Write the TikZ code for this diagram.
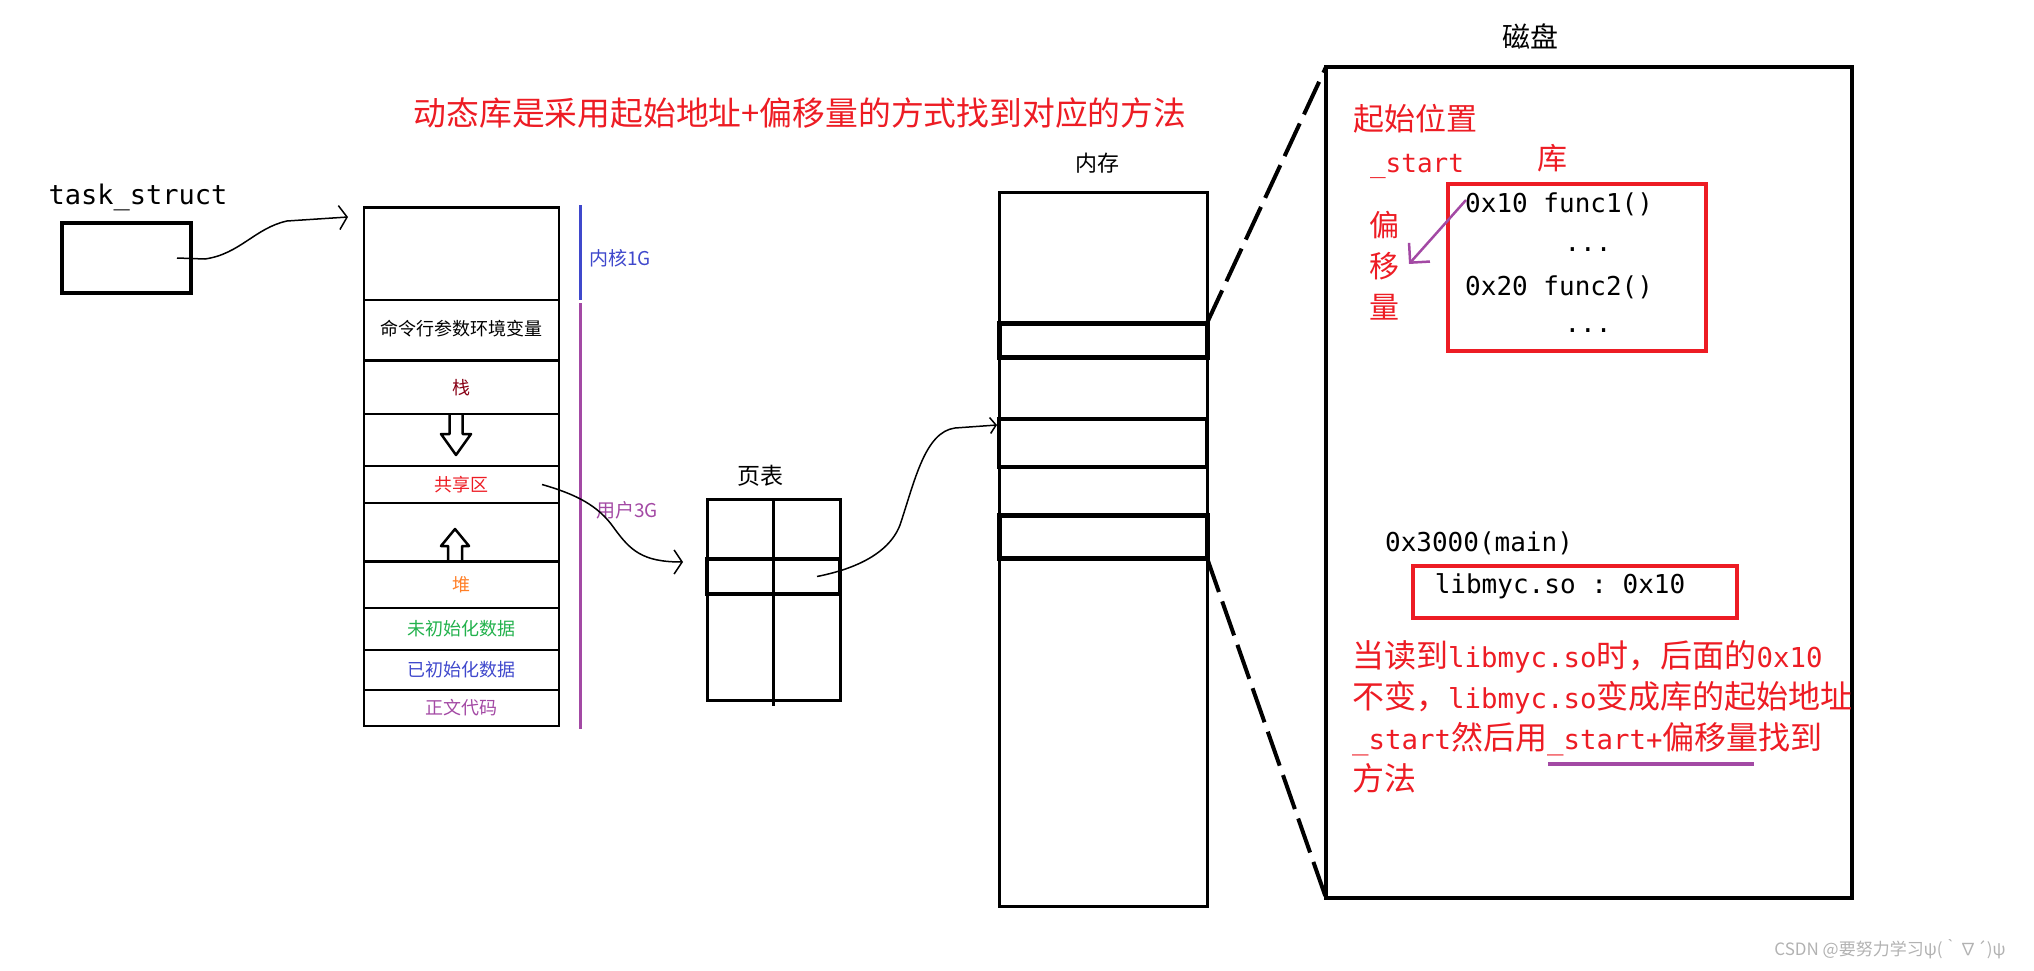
\documentclass[tikz,border=0pt]{standalone}
\usepackage{fontspec}
\setmainfont{Noto Sans CJK SC}
\setmonofont{DejaVu Sans Mono}
\usetikzlibrary{arrows.meta,positioning}
\definecolor{pred}{HTML}{ED1C24}
\definecolor{ppurple}{HTML}{A349A4}
\definecolor{pblue}{HTML}{3F48CC}
\definecolor{pbrown}{HTML}{880015}
\definecolor{porange}{HTML}{FF7F27}
\definecolor{pgreen}{HTML}{22B14C}
\newcommand{\fsz}[1]{\fontsize{#1}{#1}\selectfont}
\newcommand{\asc}[1]{{\ttfamily\fontsize{27.4}{41}\selectfont #1}}

\begin{document}
\begin{tikzpicture}[x=1pt, y=-1pt,
  seg/.style={draw, line width=2.5pt, minimum width=195pt, inner sep=0pt, outer sep=0pt, font=\fsz{18}},
  band/.style={draw, line width=5pt, minimum width=208pt, inner sep=0pt, outer sep=0pt},
  scrawl/.style={line width=1.5pt, -{Straight Barb[length=8pt,width=24pt]}},
  zoomln/.style={line width=4pt, dash pattern=on 36pt off 10pt},
  redbox/.style={draw=pred, line width=4pt, inner sep=0pt, outer sep=0pt},
  code/.style={font=\ttfamily\fsz{26}, inner sep=0pt},
  rtxt/.style={text=pred, inner sep=0pt, font=\fontsize{32}{41}\selectfont}]
 \useasboundingbox (0,0) rectangle (2034,971);
 \node[text=pred, font=\fsz{32.8}] (ttl) at (800,113) {动态库是采用起始地址+偏移量的方式找到对应的方法};
 % task_struct
 \node[font=\ttfamily\fsz{27}] (tsname) at (138,197) {task\_struct};
 \node[draw, line width=4pt, minimum width=129pt, minimum height=70pt] (tsk) at (126.5,258) {};
 % address space
 \node[seg, minimum height=92.5pt] (kern) at (461.5,253.75) {};
 \node[seg, minimum height=60.5pt, below=0pt of kern] (args) {\raisebox{5pt}{命令行参数环境变量}};
 \node[seg, minimum height=53.5pt, below=0pt of args, text=pbrown] (stk) {栈};
 \node[seg, minimum height=52pt, below=0pt of stk] (gapd) {};
 \node[seg, minimum height=37pt, below=0pt of gapd, text=pred] (shm) {共享区};
 \node[seg, minimum height=58.6pt, below=0pt of shm] (gapu) {};
 \node[seg, minimum height=46.4pt, below=0pt of gapu, text=porange] (heap) {堆};
 \node[seg, minimum height=42pt, below=0pt of heap, text=pgreen] (bss) {未初始化数据};
 \node[seg, minimum height=40pt, below=0pt of bss, text=pblue] (data) {已初始化数据};
 \node[seg, minimum height=36pt, below=0pt of data, text=ppurple] (txt) {正文代码};
 \draw[line width=2.5pt, line join=round] (449.5,414) -- (449.5,434) -- (441,434) -- (456,455) -- (471,434) -- (462.5,434) -- (462.5,414);
 \draw[line width=2.5pt, line join=round] (448,561.6) -- (448,546) -- (441,546) -- (455,529) -- (469,546) -- (462,546) -- (462,561.6);
 \draw[pblue, line width=3pt] (580,205) -- (580,300);
 \draw[ppurple, line width=3pt] (580,303) -- (580,729);
 \node[text=pblue, font=\fsz{19}] (kl) at (620,258) {内核1G};
 \node[text=ppurple, font=\fsz{19}] (ul) at (627,510) {用户3G};
 % page table
 \node[font=\fsz{23}] (pgtl) at (760,476) {页表};
 \node[draw, line width=3pt, minimum width=133pt, minimum height=201pt, outer sep=0pt] (pgt) at (773.5,599.5) {};
 \draw[line width=3pt] (773,499) -- (773,706);
 \node[draw, line width=4pt, minimum width=133pt, minimum height=35pt, outer sep=0pt] (pgrow) at (773.5,576.5) {};
 % memory
 \node[font=\fsz{22}] (meml) at (1097,163) {内存};
 \node[draw, line width=3pt, minimum width=208pt, minimum height=714pt, outer sep=0pt] (mem) at (1103,549) {};
 \node[band, minimum height=34pt] (band1) at (1103,340) {};
 \node[band, line width=3.5pt, minimum height=48pt] (band2) at (1103,443) {};
 \node[band, minimum height=43pt] (band3) at (1103,536.5) {};
 % disk
 \node[font=\fsz{28}] (diskl) at (1530,36) {磁盘};
 \node[draw, line width=4.5pt, minimum width=526pt, minimum height=831pt, outer sep=0pt] (disk) at (1589,482.5) {};
 \draw[zoomln] (band1.north east) -- (disk.north west);
 \draw[zoomln] (band3.south east) -- (disk.south west);
 \node[text=pred, font=\fsz{31}] (startl) at (1415,119) {起始位置};
 \node[text=pred, code] (start) at (1417,166) {\_start};
 \node[text=pred, font=\fsz{30}] (libl) at (1552,158) {库};
 \node[redbox, minimum width=258pt, minimum height=167pt] (lib) at (1577,267.5) {};
 \node[code, anchor=west] (f1) at (1465,204) {0x10 func1()};
 \node[code] (dots1) at (1588,250) {...};
 \node[code, anchor=west] (f2) at (1465,287) {0x20 func2()};
 \node[code] (dots2) at (1588,331) {...};
 \node[text=pred, align=center, font=\fontsize{30}{41}\selectfont] (offl) at (1384,266) {偏\\移\\量};
 \coordinate (offtip) at (1409,264);
 \draw[ppurple, line width=2.5pt, -{Straight Barb[length=14pt,width=28pt]}] ([xshift=1pt,yshift=4pt]f1.west) -- (offtip);
 \node[code] (mainl) at (1479,543) {0x3000(main)};
 \node[redbox, minimum width=324pt, minimum height=52pt] (sobox) at (1575,592) {};
 \node[code] (so) at (1560,586) {libmyc.so : 0x10};
 \foreach \ln [count=\k] in {{当读到\asc{libmyc.so}时，后面的\asc{0x10}}, {不变，\asc{libmyc.so}变成库的起始地址}, {\asc{\_start}然后用\asc{\_start+}偏移量找到}, {方法}}
   \node[rtxt, anchor=base west] (expl\k) at (1352,626+41*\k) {\ln};
 \draw[ppurple, line width=4pt] (1548,764) -- (1754,764);
 % scribbled pointers
 \coordinate (tskin) at (348,217);
 \coordinate (pgtin) at (683,562);
 \coordinate (memin) at (997,425);
 \draw[scrawl] ([xshift=-16pt]tsk.east) -- (205,259) .. controls (240,254) and (255,228) .. (287,221) -- (tskin);
 \draw[scrawl] ([xshift=-17pt]shm.east) .. controls (575,494) and (598,505) .. (614,528) .. controls (630,550) and (642,562) .. (pgtin);
 \draw[line width=1.5pt, -{Straight Barb[length=6pt,width=16pt]}] ([xshift=-23pt]pgrow.east) .. controls (850,570) and (888,556) .. (900,525) .. controls (915,480) and (925,432) .. (955,428) -- (memin);
 \node[text=black!30, font=\fsz{17}] (mark) at (1890,949) {CSDN @要努力学习ψ(｀∇´)ψ};
\end{tikzpicture}
\end{document}
